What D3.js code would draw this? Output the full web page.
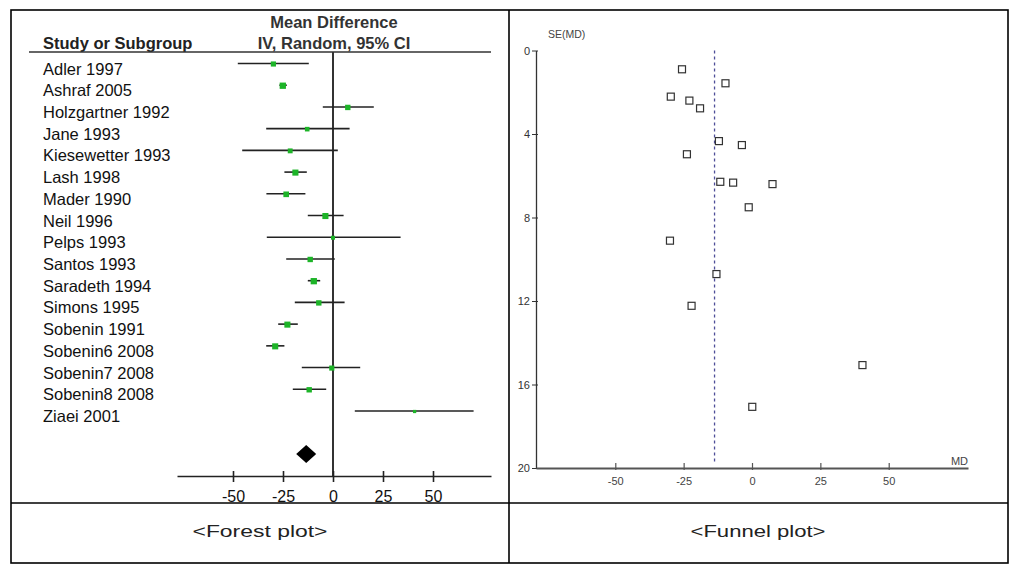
<!DOCTYPE html>
<meta charset="utf-8">
<style>
body {
  margin: 0;
  background: #fff;
}
svg {
  font-family: "Liberation Sans", Arial, sans-serif;
}
.label {
  font-size: 16.5px;
  fill: #111;
}
.head {
  font-size: 16.5px;
  font-weight: bold;
  fill: #333;
}
.fticks text {
  font-family: "Liberation Sans Narrow", "Liberation Sans", sans-serif;
  font-size: 11px;
  fill: #444;
}
</style>
<body>
<script src="https://cdn.jsdelivr.net/npm/d3@7"></script>
<script>

var width = 1028,
    height = 578;

// forest plot data
var studies = ["Adler 1997", "Ashraf 2005", "Holzgartner 1992", "Jane 1993", "Kiesewetter 1993",
  "Lash 1998", "Mader 1990", "Neil 1996", "Pelps 1993", "Santos 1993", "Saradeth 1994",
  "Simons 1995", "Sobenin 1991", "Sobenin6 2008", "Sobenin7 2008", "Sobenin8 2008", "Ziaei 2001"];
var md    = [-29.8, -25.1,  7.4, -12.9, -21.4, -18.8, -23.4, -3.8,   0.0, -11.4, -9.6, -7.1, -22.8, -28.9, -0.6, -11.9, 40.8];
var ciLo  = [-47.6, -26.8, -5.1, -33.4, -45.4, -24.3, -33.3, -12.6, -33.1, -23.4, -12.6, -19.1, -27.4, -33.4, -15.6, -20.1, 10.9];
var ciHi  = [-12.1, -23.1, 20.4,   8.3,   2.4, -13.1, -13.8,  5.3,  33.8,   0.9, -6.4,  5.8, -17.6, -24.3, 13.6, -3.4, 70.3];
var weights = [5, 7.5, 5.5, 4, 4.5, 7, 6, 7, 3, 5.5, 7.5, 5.5, 7, 7, 5, 5.5, 2];
var pooled = {md: -13.4, lo: -18.4, hi: -8.4};
var forestTicks = [-50, -25, 0, 25, 50];

// funnel plot data
var funnelMD = [-25.6, -9.7, -29.7, -22.9, -19.0, -12.1, -3.7, -23.8, -11.6, -6.9, 7.5, -1.2, -30.0, -13.0, -22.1, 40.4, 0.1];
var funnelSE = [0.9, 1.57, 2.21, 2.4, 2.77, 4.34, 4.53, 4.97, 6.29, 6.33, 6.4, 7.51, 9.11, 10.71, 12.23, 15.07, 17.07];
var funnelPooled = -13.7;
var funnelXTicks = [-50, -25, 0, 25, 50];
var funnelYTicks = [0, 4, 8, 12, 16, 20];

var captions = ["<Forest plot>", "<Funnel plot>"];

// plain hyphen instead of the unicode minus
var plain = function(d) { return String(d); };

var svg = d3.select("body").append("svg")
    .attr("width", width)
    .attr("height", height);

svg.append("rect")
    .attr("width", width).attr("height", height).attr("fill", "#fff");

// table frame
var frame = svg.append("g").attr("stroke", "#000").attr("stroke-width", 1.6).attr("fill", "none");
frame.append("rect").attr("x", 11).attr("y", 10).attr("width", 997).attr("height", 553);
frame.append("line").attr("x1", 509).attr("x2", 509).attr("y1", 10).attr("y2", 563);
frame.append("line").attr("x1", 11).attr("x2", 1008).attr("y1", 503).attr("y2", 503);

svg.selectAll(".caption")
  .data(captions)
  .enter().append("text")
    .attr("class", "caption")
    .attr("x", function(d, i) { return i == 0 ? 260 : 758; })
    .attr("y", 537)
    .attr("text-anchor", "middle")
    .attr("textLength", 135)
    .attr("lengthAdjust", "spacingAndGlyphs")
    .style("font-size", "17px")
    .style("fill", "#222")
    .text(function(d) { return d; });

// ---------- forest plot ----------
var x = d3.scaleLinear().domain([-78, 79]).range([177, 491]);
var y = d3.scalePoint().domain(studies).range([63.5, 411]);
var sq = d3.scaleSqrt().domain([0, 8]).range([0, 6.5]);

var forest = svg.append("g");

forest.append("text").attr("class", "head")
    .attr("x", 334).attr("y", 28).attr("text-anchor", "middle").text("Mean Difference");
forest.append("text").attr("class", "head")
    .attr("x", 334).attr("y", 49).attr("text-anchor", "middle").text("IV, Random, 95% CI");
forest.append("text").attr("class", "head")
    .attr("x", 43).attr("y", 49).style("fill", "#222").text("Study or Subgroup");

forest.append("line")
    .attr("x1", 29).attr("x2", 491).attr("y1", 52).attr("y2", 52)
    .attr("stroke", "#333").attr("stroke-width", 1.5);

forest.append("line")
    .attr("x1", x(0)).attr("x2", x(0)).attr("y1", 52).attr("y2", 476)
    .attr("stroke", "#333").attr("stroke-width", 2);

forest.selectAll(".label")
  .data(studies)
  .enter().append("text")
    .attr("class", "label")
    .attr("x", 43)
    .attr("y", function(d) { return y(d) + 11; })
    .text(function(d) { return d; });

var rows = forest.selectAll(".row")
  .data(studies)
  .enter().append("g")
    .attr("class", "row");

rows.append("line")
    .attr("x1", function(d, i) { return x(ciLo[i]); })
    .attr("x2", function(d, i) { return x(ciHi[i]); })
    .attr("y1", function(d) { return y(d); })
    .attr("y2", function(d) { return y(d); })
    .attr("stroke", "#222")
    .attr("stroke-width", 1.6);

rows.append("rect")
    .attr("x", function(d, i) { return x(md[i]) - sq(weights[i]) / 2; })
    .attr("y", function(d, i) { return y(d) - sq(weights[i]) / 2 + 0.5; })
    .attr("width", function(d, i) { return sq(weights[i]); })
    .attr("height", function(d, i) { return sq(weights[i]); })
    .attr("fill", "#1db428");

forest.append("path")
    .attr("d", "M" + x(pooled.lo) + ",454L" + x(pooled.md) + ",445L" + x(pooled.hi) + ",454L" + x(pooled.md) + ",463Z")
    .attr("fill", "#000");

var xAxis = forest.append("g")
    .attr("transform", "translate(0,476)")
    .call(d3.axisBottom(x).tickValues(forestTicks).tickFormat(plain)
      .tickSize(6).tickSizeOuter(0).tickPadding(9));
xAxis.select(".domain").attr("stroke", "#222").attr("stroke-width", 1.6);
xAxis.selectAll(".tick line").attr("y1", -5).attr("stroke", "#222").attr("stroke-width", 1.6);
xAxis.selectAll(".tick text")
    .style("font-family", "'Liberation Sans', Arial, sans-serif")
    .style("font-size", "16px")
    .style("fill", "#111");

// ---------- funnel plot ----------
var fx = d3.scaleLinear().domain([-79, 79]).range([536, 968]);
var fy = d3.scaleLinear().domain([0, 20]).range([50.5, 468]);

var funnel = svg.append("g");

funnel.append("line")
    .attr("x1", fx(funnelPooled)).attr("x2", fx(funnelPooled))
    .attr("y1", fy(0)).attr("y2", fy(19.7))
    .attr("stroke", "#4e4e98").attr("stroke-width", 1.3)
    .attr("stroke-dasharray", "3,3");

var fyAxis = funnel.append("g")
    .attr("class", "fticks")
    .attr("transform", "translate(536,0)")
    .call(d3.axisLeft(fy).tickValues(funnelYTicks).tickFormat(plain)
      .tickSize(4).tickSizeOuter(0).tickPadding(2));
fyAxis.select(".domain").attr("stroke", "#333").attr("stroke-width", 1.3);
fyAxis.selectAll(".tick line").attr("x2", 2).attr("x1", -4).attr("stroke", "#333");
fyAxis.selectAll(".tick text").style("fill", "#333");

var fxAxis = funnel.append("g")
    .attr("class", "fticks")
    .attr("transform", "translate(0,468)")
    .call(d3.axisBottom(fx).tickValues(funnelXTicks).tickFormat(plain)
      .tickSize(2).tickSizeOuter(0).tickPadding(7));
fxAxis.select(".domain").attr("stroke", "#555").attr("stroke-width", 2.2);
fxAxis.selectAll(".tick line").attr("y1", -5).attr("stroke", "#555").attr("stroke-width", 1.2);

funnel.append("text")
    .attr("x", 548).attr("y", 38)
    .style("font-family", "'Liberation Sans Narrow', 'Liberation Sans', sans-serif")
    .style("font-size", "10.5px").style("fill", "#444")
    .text("SE(MD)");

funnel.append("text")
    .attr("x", 968).attr("y", 465).attr("text-anchor", "end")
    .style("font-family", "'Liberation Sans Narrow', 'Liberation Sans', sans-serif")
    .style("font-size", "11px").style("fill", "#444")
    .text("MD");

funnel.selectAll(".pt")
  .data(funnelMD)
  .enter().append("rect")
    .attr("class", "pt")
    .attr("x", function(d) { return fx(d) - 3.5; })
    .attr("y", function(d, i) { return fy(funnelSE[i]) - 3.5; })
    .attr("width", 7)
    .attr("height", 7)
    .attr("fill", "#fff")
    .attr("stroke", "#333")
    .attr("stroke-width", 1.2);

</script>
